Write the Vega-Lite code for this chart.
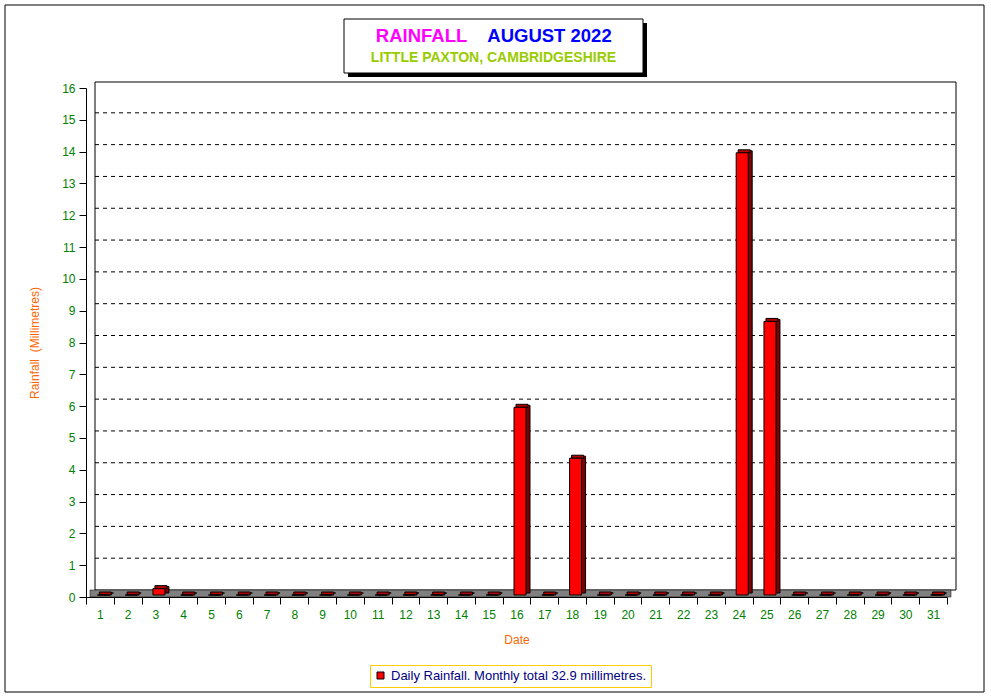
{
  "$schema": "https://vega.github.io/schema/vega-lite/v6.json",
  "autosize": "none",
  "width": 861,
  "height": 509,
  "padding": {"left": 86, "top": 88, "right": 44, "bottom": 101},
  "background": "white",
  "config": {
    "view": {"stroke": null},
    "font": "Liberation Sans",
    "axis": {"zindex": 1}
  },
  "data": {
    "values": [
      {"day": 1, "rain": 0}, {"day": 2, "rain": 0}, {"day": 3, "rain": 0.2}, {"day": 4, "rain": 0},
      {"day": 5, "rain": 0}, {"day": 6, "rain": 0}, {"day": 7, "rain": 0}, {"day": 8, "rain": 0},
      {"day": 9, "rain": 0}, {"day": 10, "rain": 0}, {"day": 11, "rain": 0}, {"day": 12, "rain": 0},
      {"day": 13, "rain": 0}, {"day": 14, "rain": 0}, {"day": 15, "rain": 0}, {"day": 16, "rain": 5.9},
      {"day": 17, "rain": 0}, {"day": 18, "rain": 4.3}, {"day": 19, "rain": 0}, {"day": 20, "rain": 0},
      {"day": 21, "rain": 0}, {"day": 22, "rain": 0}, {"day": 23, "rain": 0}, {"day": 24, "rain": 13.9},
      {"day": 25, "rain": 8.6}, {"day": 26, "rain": 0}, {"day": 27, "rain": 0}, {"day": 28, "rain": 0},
      {"day": 29, "rain": 0}, {"day": 30, "rain": 0}, {"day": 31, "rain": 0}
    ]
  },
  "encoding": {
    "x": {
      "field": "day", "type": "ordinal",
      "scale": {"paddingInner": 0, "paddingOuter": 0},
      "axis": {
        "title": "Date", "titleColor": "#FF6600", "titleFont": "Liberation Sans", "titleFontSize": 12, "titleFontWeight": "normal",
        "titlePadding": 14,
        "labelAngle": 0, "labelColor": "#008000", "labelFont": "Liberation Sans", "labelFontSize": 12, "labelPadding": 5,
        "tickBand": "extent", "tickSize": 7, "tickColor": "black", "domainColor": "black", "grid": false
      }
    }
  },
  "layer": [
    {
      "data": {"values": [{"g": 1}, {"g": 2}, {"g": 3}, {"g": 4}, {"g": 5}, {"g": 6}, {"g": 7}, {"g": 8}, {"g": 9}, {"g": 10}, {"g": 11}, {"g": 12}, {"g": 13}, {"g": 14}, {"g": 15}]},
      "mark": {"type": "rule", "color": "black", "strokeWidth": 1, "strokeDash": [4, 4], "xOffset": 9, "x2Offset": 9, "yOffset": -7},
      "encoding": {
        "x": {"value": 0}, "x2": {"value": "width"},
        "y": {
          "field": "g", "type": "quantitative",
          "scale": {"domain": [0, 16], "nice": false, "zero": true},
          "axis": {
            "title": "Rainfall\u00a0 (Millimetres)", "titleColor": "#FF6600", "titleFont": "Liberation Sans", "titleFontSize": 12, "titleFontWeight": "normal",
            "titlePadding": 20,
            "values": [0, 1, 2, 3, 4, 5, 6, 7, 8, 9, 10, 11, 12, 13, 14, 15, 16],
            "tickCount": 40,
            "format": "d",
            "labelOverlap": false,
            "labelColor": "#008000", "labelFont": "Liberation Sans", "labelFontSize": 12, "labelPadding": 4,
            "tickSize": 7, "tickColor": "black", "domainColor": "black", "grid": false
          }
        }
      }
    },
    {
      "data": {"values": [{}]},
      "mark": {"type": "rect", "fill": null, "stroke": "black", "strokeWidth": 1, "xOffset": -81, "x2Offset": 37, "yOffset": 95, "y2Offset": -83},
      "encoding": {"x": {"value": 0}, "x2": {"value": "width"}, "y": {"datum": 0, "type": "quantitative"}, "y2": {"datum": 16}}
    },
    {
      "data": {"values": [{}]},
      "mark": {"type": "rect", "fill": "black", "xOffset": 262, "x2Offset": -300, "yOffset": -65, "y2Offset": -11},
      "encoding": {"x": {"value": 0}, "x2": {"value": "width"}, "y": {"datum": 16, "type": "quantitative"}, "y2": {"datum": 16}}
    },
    {
      "data": {"values": [{}]},
      "mark": {"type": "rect", "fill": "white", "stroke": "black", "strokeWidth": 1, "xOffset": 258, "x2Offset": -304, "yOffset": -69, "y2Offset": -15},
      "encoding": {"x": {"value": 0}, "x2": {"value": "width"}, "y": {"datum": 16, "type": "quantitative"}, "y2": {"datum": 16}}
    },
    {
      "data": {"values": [{}]},
      "mark": {"type": "text", "text": "RAINFALL", "font": "Liberation Sans", "fontWeight": "bold", "fontSize": 18.5, "color": "#FF00FF", "dx": -95, "dy": -52},
      "encoding": {"x": null, "y": {"datum": 16, "type": "quantitative"}}
    },
    {
      "data": {"values": [{}]},
      "mark": {"type": "text", "text": "AUGUST 2022", "font": "Liberation Sans", "fontWeight": "bold", "fontSize": 18.5, "color": "#0000FF", "dx": 33, "dy": -52},
      "encoding": {"x": null, "y": {"datum": 16, "type": "quantitative"}}
    },
    {
      "data": {"values": [{}]},
      "mark": {"type": "text", "text": "LITTLE PAXTON, CAMBRIDGESHIRE", "font": "Liberation Sans", "fontWeight": "bold", "fontSize": 14, "color": "#99CC00", "dx": -23, "dy": -30},
      "encoding": {"x": null, "y": {"datum": 16, "type": "quantitative"}}
    },
    {
      "data": {"values": [{}]},
      "mark": {"type": "rect", "fill": null, "stroke": "black", "strokeWidth": 1, "xOffset": 9, "x2Offset": 9, "yOffset": -7, "y2Offset": -6},
      "encoding": {"x": {"value": 0}, "x2": {"value": "width"}, "y": {"datum": 0, "type": "quantitative"}, "y2": {"datum": 16}}
    },
    {
      "data": {"values": [{}]},
      "mark": {"type": "rect", "fill": "#808080", "stroke": "black", "strokeWidth": 0.5, "xOffset": 4, "x2Offset": 4, "yOffset": 0, "y2Offset": -7},
      "encoding": {"x": {"value": 0}, "x2": {"value": "width"}, "y": {"datum": 0, "type": "quantitative"}, "y2": {"datum": 0}}
    },
    {
      "mark": {"type": "bar", "width": 4, "xOffset": 11.5, "yOffset": -4, "y2Offset": -4, "fill": "#800000", "stroke": "black", "strokeWidth": 1},
      "encoding": {
        "y": {"field": "rain", "type": "quantitative"},
        "y2": {"datum": 0}
      }
    },
    {
      "mark": {"type": "bar", "width": 12, "xOffset": 5.5, "yOffset": -5, "y2Offset": -2, "fill": "#B00000", "stroke": "black", "strokeWidth": 1},
      "encoding": {
        "y": {"field": "rain", "type": "quantitative"},
        "y2": {"field": "rain"}
      }
    },
    {
      "mark": {"type": "bar", "width": 12, "xOffset": 3.5, "yOffset": -2, "y2Offset": -2, "stroke": "black", "strokeWidth": 1, "opacity": 1},
      "encoding": {
        "y": {"field": "rain", "type": "quantitative"},
        "y2": {"datum": 0},
        "color": {
          "datum": "Daily Rainfall. Monthly total 32.9 millimetres.",
          "scale": {"range": ["#FF0000"]},
          "legend": {
            "title": null, "orient": "none", "legendX": 284, "legendY": 577,
            "symbolType": "square", "symbolSize": 49, "symbolStrokeColor": "black", "symbolStrokeWidth": 1, "symbolFillColor": "#FF0000",
            "labelColor": "#000080", "labelFont": "Liberation Sans", "labelFontSize": 13, "labelLimit": 0, "labelOffset": 4,
            "strokeColor": "#FFCC00", "fillColor": "white", "padding": 4, "cornerRadius": 0
          }
        }
      }
    }
  ]
}
